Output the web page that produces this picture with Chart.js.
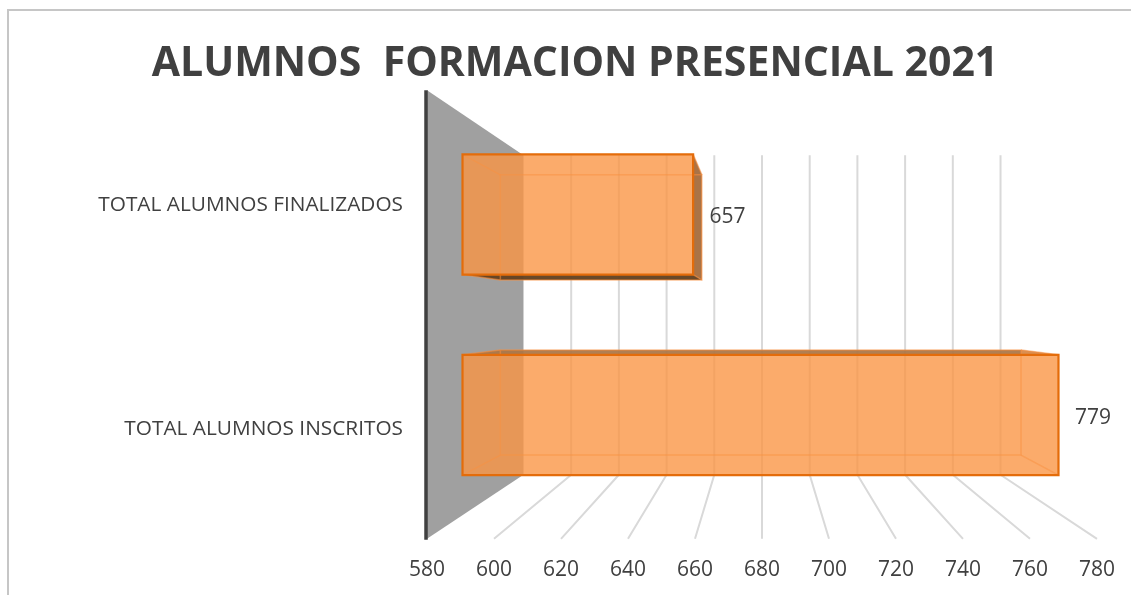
<!DOCTYPE html>
<html>
<head>
<meta charset="utf-8">
<script src="https://cdn.jsdelivr.net/npm/chart.js@4"></script>
<style>
  html, body { margin: 0; padding: 0; background: #fff; overflow: hidden; width: 1131px; height: 595px; }
  #frame { position: absolute; left: 7px; top: 9px; right: 0; bottom: 0; border-left: 2px solid #c6c6c6; border-top: 2px solid #c6c6c6; z-index: 2; }
  #chartKu { position: absolute; left: 0; top: 0; }
</style>
</head>
<body>
<div id="frame"></div>
<canvas id="chartKu" width="1131" height="595" style="width:1131px;height:595px"></canvas>
<script>
const chartTitle = 'ALUMNOS  FORMACION PRESENCIAL 2021'
const categories = ['TOTAL ALUMNOS FINALIZADOS', 'TOTAL ALUMNOS INSCRITOS']
const alumnos = [657, 779]
const axisMin = 580
const axisMax = 780
const axisStep = 20

// fake 3D: depth scales towards a vanishing point in the middle of the plot
const WALL_S = 0.712
const BAR_BACK_S = 0.781
const BAR_FRONT_S = 0.894
const TEXT = '#404040'

function project(chart, px, py, s) {
  const a = chart.chartArea
  const cx = (a.left + a.right) / 2
  const cy = (a.top + a.bottom) / 2 + 2
  return [cx + (px - cx) * s, cy + (py - cy) * s]
}

function poly(ctx, pts, fill, stroke, lw) {
  ctx.beginPath()
  pts.forEach((p, i) => i ? ctx.lineTo(p[0], p[1]) : ctx.moveTo(p[0], p[1]))
  ctx.closePath()
  if (fill) { ctx.fillStyle = fill; ctx.fill() }
  if (stroke) { ctx.strokeStyle = stroke; ctx.lineWidth = lw; ctx.stroke() }
}

const box3d = {
  id: 'box3d',
  beforeDatasetsDraw(chart) {
    const ctx = chart.ctx, a = chart.chartArea, x = chart.scales.x
    ctx.save()
    // wall
    const wallLeft = x.getPixelForValue(axisMin)
    poly(ctx, [[wallLeft, a.top], project(chart, wallLeft, a.top, WALL_S),
      project(chart, wallLeft, a.bottom, WALL_S), [wallLeft, a.bottom]], '#a0a0a0')
    // back and floor grid
    ctx.strokeStyle = '#d9d9d9'
    ctx.lineWidth = 2
    x.ticks.forEach(t => {
      const px = x.getPixelForValue(t.value)
      const top = project(chart, px, a.top, WALL_S)
      const bot = project(chart, px, a.bottom, WALL_S)
      ctx.beginPath()
      if (t.value !== axisMin) {
        ctx.moveTo(top[0], top[1])
        ctx.lineTo(bot[0], bot[1])
        ctx.lineTo(px, a.bottom)
      }
      ctx.stroke()
    })
    // axis line at the front of the wall
    ctx.strokeStyle = '#404040'
    ctx.lineWidth = 3.5
    ctx.beginPath()
    ctx.moveTo(wallLeft - 1, a.top)
    ctx.lineTo(wallLeft - 1, a.bottom + 1)
    ctx.stroke()
    ctx.restore()
  },
  afterDatasetsDraw(chart) {
    const ctx = chart.ctx
    ctx.save()
    const bars = chart.getDatasetMeta(0).data
    const FACE = 'rgba(250,150,70,0.55)'
    bars.forEach((bar, i) => {
      const p = bar.getProps(['x', 'y', 'height'], true)
      const l = chart.scales.x.getPixelForValue(axisMin), r = p.x, t = p.y - p.height / 2, b = p.y + p.height / 2
      const bk = [project(chart, l, t, BAR_BACK_S), project(chart, r, t, BAR_BACK_S),
        project(chart, r, b, BAR_BACK_S), project(chart, l, b, BAR_BACK_S)]
      const fr = [project(chart, l, t, BAR_FRONT_S), project(chart, r, t, BAR_FRONT_S),
        project(chart, r, b, BAR_FRONT_S), project(chart, l, b, BAR_FRONT_S)]
      const inner = 'rgba(248,140,60,0.55)'

      poly(ctx, bk, FACE)
      // side faces, outer ones (seen from outside the box) are darker
      const top = [fr[0], fr[1], bk[1], bk[0]]
      const right = [fr[1], fr[2], bk[2], bk[1]]
      const bottom = [fr[3], fr[2], bk[2], bk[3]]
      const left = [fr[0], fr[3], bk[3], bk[0]]
      poly(ctx, left, FACE)
      poly(ctx, top, bk[0][1] < fr[0][1] ? 'rgba(165,115,70,0.85)' : FACE)
      poly(ctx, bottom, bk[3][1] > fr[3][1] ? 'rgba(90,60,30,0.9)' : FACE)
      poly(ctx, right, bk[1][0] > fr[1][0] ? 'rgba(150,95,50,0.8)' : FACE)
      poly(ctx, bk, null, inner, 1.5)
      ctx.strokeStyle = inner
      ctx.lineWidth = 1.5
      for (let k = 0; k < 4; k++) {
        ctx.beginPath()
        ctx.moveTo(fr[k][0], fr[k][1])
        ctx.lineTo(bk[k][0], bk[k][1])
        ctx.stroke()
      }
      poly(ctx, fr, FACE, '#e46c0a', 2.2)

      // value label
      ctx.fillStyle = TEXT
      ctx.font = '21px "Open Sans"'
      ctx.textAlign = 'center'
      ctx.textBaseline = 'middle'
      ctx.fillText(String(alumnos[i]), fr[1][0] + 34.5, (fr[1][1] + fr[2][1]) / 2 + 3)
    })
    ctx.restore()
  }
}

new Chart(document.getElementById('chartKu').getContext('2d'), {
  type: 'bar',
  plugins: [box3d],
  data: {
    labels: categories,
    datasets: [{
      data: alumnos,
      backgroundColor: 'rgba(0,0,0,0)',
      borderWidth: 0,
      barPercentage: 0.6,
      categoryPercentage: 1
    }]
  },
  options: {
    indexAxis: 'y',
    responsive: false,
    animation: false,
    layout: { padding: { top: 0, right: 34, bottom: 1, left: 53 } },
    plugins: {
      legend: { display: false },
      tooltip: { enabled: false },
      title: {
        display: true,
        text: chartTitle,
        color: TEXT,
        font: { family: '"Open Sans"', size: 41, weight: 'bold' },
        padding: { top: 40, bottom: 1 }
      }
    },
    scales: {
      x: {
        type: 'linear',
        min: axisMin,
        max: axisMax,
        grid: { display: false },
        border: { display: false },
        ticks: {
          stepSize: axisStep,
          autoSkip: false,
          maxRotation: 0,
          color: TEXT,
          padding: 11,
          font: { family: '"Open Sans"', size: 21 }
        }
      },
      y: {
        type: 'category',
        grid: { display: false, drawTicks: false },
        border: { display: false },
        afterFit(scale) { scale.width = 374 },
        ticks: {
          color: TEXT,
          padding: 24,
          labelOffset: 2.5,
          font: { family: '"Open Sans"', size: 20.8 }
        }
      }
    }
  }
})
</script>
</body>
</html>
